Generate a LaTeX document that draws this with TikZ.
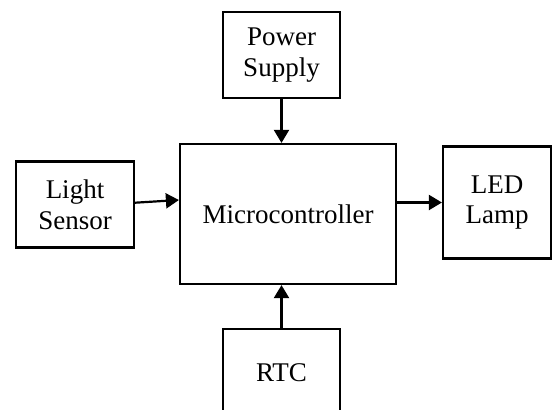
\documentclass[tikz,border=0pt]{standalone}
\usepackage{fontspec}
\setmainfont{Liberation Serif}
\newcommand*{\blockfont}{\fontsize{13.5}{15.3}\selectfont}
\usepackage{tikz}
\usetikzlibrary{arrows.meta}
\usetikzlibrary{positioning}
\tikzstyle{base}=[x=0.5pt, y=-0.5pt, line width=1.1pt]
\tikzstyle{block}=[draw, black, align=center, inner sep=0pt, font=\blockfont]
\tikzstyle{link}=[-{Triangle[length=6.5pt,width=7.5pt]}, black]

\begin{document}
\begin{tikzpicture}[base]
    \useasboundingbox (0,0) rectangle (552,409);
    \clip (0,0) rectangle (552,409);
        \node [block, minimum width=58.5pt, minimum height=43pt] (power) at (281.5,55.3) {Power\\Supply};
        \node [block, minimum width=108pt, minimum height=70pt] (mcu) at (288,214) {Microcontroller};
        \node [block, minimum width=59pt, minimum height=43pt] (sensor) at (75,204.5) {Light\\Sensor};
        \node [block, minimum width=54pt, minimum height=56pt] (lamp) at (497,202.5) {LED\\Lamp};
        \node [block, minimum width=58.5pt, minimum height=43pt] (rtc) at (281.5,372.3) {RTC};
        \draw [link] (power.south) -- (power.south |- mcu.north);
        \draw [link] (rtc.north) -- (rtc.north |- mcu.south);
        \draw [link] ([yshift=0.9pt]sensor.east) -- ([yshift=7pt]mcu.west);
        \draw [link] (mcu.east |- lamp.west) -- (lamp.west);
    \end{tikzpicture}
\end{document}
